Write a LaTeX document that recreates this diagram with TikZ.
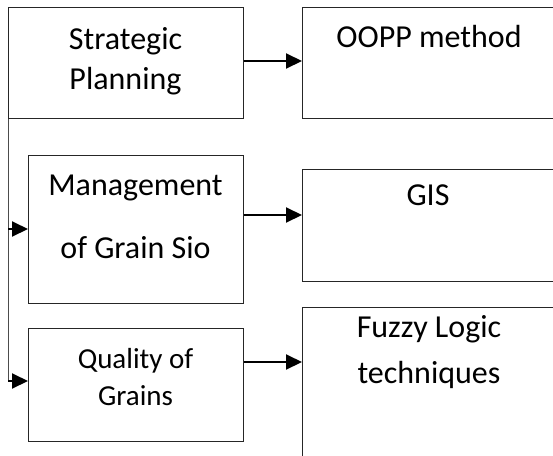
\documentclass[tikz,border=0pt]{standalone}
\usepackage{fontspec}
\setmainfont{Carlito}
\usetikzlibrary{arrows.meta}
\begin{document}
\begin{tikzpicture}[x=1pt,y=-1pt,
  box/.style={draw=black!85,line width=0.9pt,rectangle,inner sep=0pt,anchor=north west},
  txt/.style={anchor=base,inner sep=0pt,font=\fontsize{32}{38}\selectfont},
  txts/.style={anchor=base,inner sep=0pt,font=\fontsize{29}{35}\selectfont},
  arr/.style={line width=2pt,-{Triangle[length=16pt,width=15pt]}},
  vline/.style={draw=black!70,line width=0.9pt}]
\useasboundingbox (0,0) rectangle (553,455);
% left boxes
\node[box,minimum width=235pt,minimum height=111pt] (b1) at (8,7) {};
\node[box,minimum width=215pt,minimum height=148pt] (b2) at (28,155) {};
\node[box,minimum width=215pt,minimum height=113pt] (b3) at (28,328) {};
% right boxes
\node[box,minimum width=254pt,minimum height=111pt] (r1) at (302,7) {};
\node[box,minimum width=254pt,minimum height=112pt] (r2) at (302,169) {};
\node[box,minimum width=254pt,minimum height=155pt] (r3) at (302,307) {};
% texts
\node[txt] (t1a) at (125.5,49) {Strategic};
\node[txt] (t1b) at (125.5,89) {Planning};
\node[txt] (t2a) at (135.5,195) {Management};
\node[txt] (t2b) at (135.5,258) {of Grain Sio};
\node[txts] (t3a) at (135.5,368) {Quality of};
\node[txts] (t3b) at (135.5,405) {Grains};
\node[txt] (u1) at (429,47) {OOPP method};
\node[txt] (u2) at (428,205) {GIS};
\node[txt] (u3a) at (429,337) {Fuzzy Logic};
\node[txt] (u3b) at (429,383) {techniques};
% arrow levels
\coordinate (y1) at (0,61);
\coordinate (y2) at (0,215);
\coordinate (y3) at (0,362);
\coordinate (l2) at (0,229);
\coordinate (l3) at (0,381);
% right arrows
\draw[arr] (b1.east |- y1) -- (r1.west |- y1);
\draw[arr] (b2.east |- y2) -- (r2.west |- y2);
\draw[arr] (b3.east |- y3) -- (r3.west |- y3);
% left connector
\draw[vline] (b1.south west) -- (b1.south west |- l3);
\draw[arr] (b1.south west |- l2) -- (b2.west |- l2);
\draw[arr] (b1.south west |- l3) -- (b3.west |- l3);
\end{tikzpicture}
\end{document}
